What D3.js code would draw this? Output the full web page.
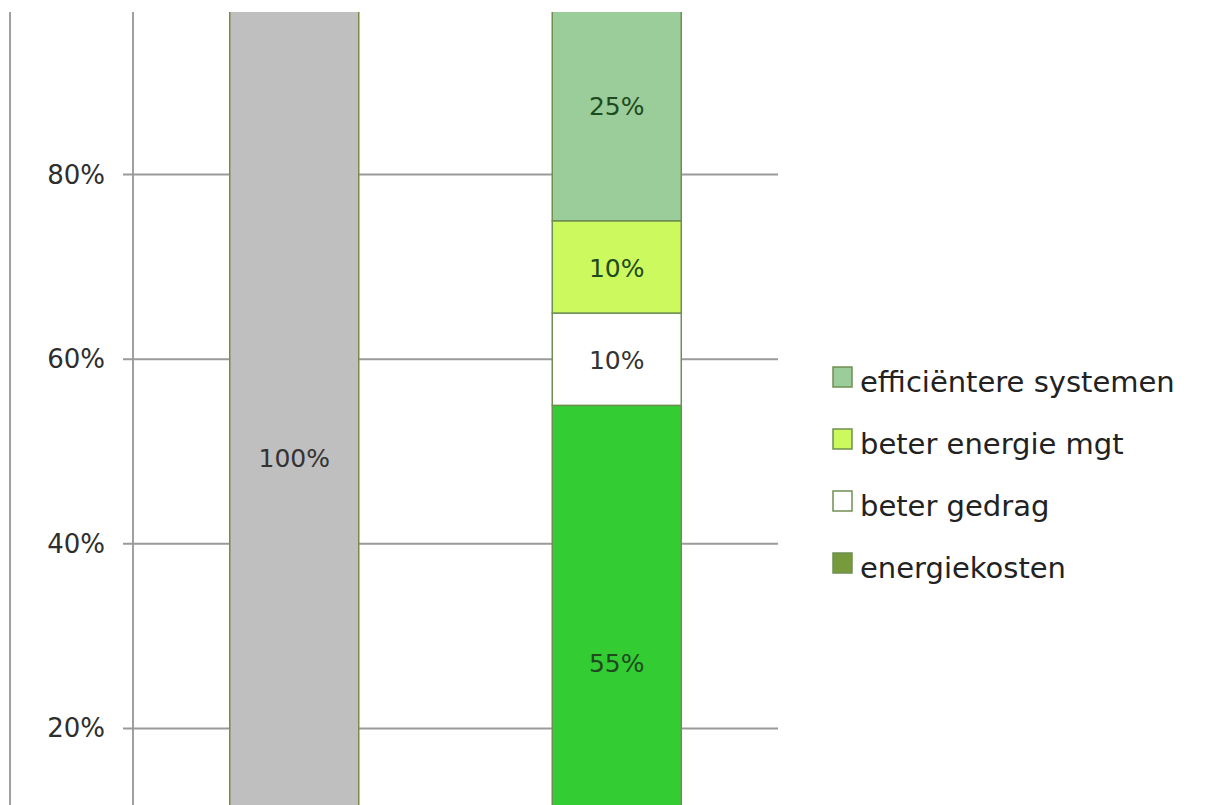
<!DOCTYPE html>
<html><head><meta charset="utf-8">
<script src="https://cdn.jsdelivr.net/npm/d3@7"></script>
<style>body{margin:0;background:#fff}svg{display:block}</style>
</head><body>
<svg id="c" width="1211" height="805"></svg>
<script>
const categories = ["huidig", "besparing"];
const seriesKeys = ["totaal", "energiekosten", "beter gedrag", "beter energie mgt", "efficiëntere systemen"];
const totaal = [100, 0];
const energiekosten = [0, 55];
const beterGedrag = [0, 10];
const beterEnergieMgt = [0, 10];
const efficientereSystemen = [0, 25];
const yTicks = [20, 40, 60, 80];
const legendKeys = ["efficiëntere systemen", "beter energie mgt", "beter gedrag", "energiekosten"];
const colors = {"totaal":"#bfbfbf","energiekosten":"#33cc33","beter gedrag":"#ffffff","beter energie mgt":"#ccfa5e","efficiëntere systemen":"#9acd99"};
const legendColors = {"efficiëntere systemen":"#9acd99","beter energie mgt":"#ccfa5e","beter gedrag":"#ffffff","energiekosten":"#779a3c"};
const labelColors = {"totaal":"#333","energiekosten":"#1f4a1f","beter gedrag":"#333","beter energie mgt":"#1f4a1f","efficiëntere systemen":"#1f4a1f"};

const rows = categories.map((c,i)=>({cat:c,"totaal":totaal[i],"energiekosten":energiekosten[i],"beter gedrag":beterGedrag[i],"beter energie mgt":beterEnergieMgt[i],"efficiëntere systemen":efficientereSystemen[i]}));

const FONT = "DejaVu Sans, Verdana, sans-serif";
const svg = d3.select("#c");
const x = d3.scaleBand().domain(categories).range([133, 778]).paddingInner(0.6).paddingOuter(0.3);
const y = d3.scaleLinear().domain([0, 100]).range([913, -10]);

svg.append("clipPath").attr("id","clip").append("rect").attr("x",0).attr("y",12).attr("width",1211).attr("height",805);
const g = svg.append("g").attr("clip-path","url(#clip)");

[10, 133].forEach(v=>g.append("line").attr("x1",v).attr("x2",v).attr("y1",0).attr("y2",805).attr("stroke","#a0a0a0").attr("stroke-width",2));

g.append("g").selectAll("line").data(yTicks).join("line")
  .attr("x1",123).attr("x2",778).attr("y1",d=>y(d)).attr("y2",d=>y(d))
  .attr("stroke","#9a9a9a").attr("stroke-width",2);

const fmt = d=>d+"%";
svg.append("g").selectAll("text").data(yTicks).join("text")
  .attr("x",105).attr("y",d=>y(d)+9)
  .attr("text-anchor","end")
  .attr("font-family",FONT).attr("font-size",26).attr("fill","#2e2e2e")
  .text(fmt);

const stack = d3.stack().keys(seriesKeys)(rows);
stack.forEach(layer=>{
  const key = layer.key;
  layer.forEach(d=>{
    const v = d[1]-d[0];
    if(v<=0) return;
    g.append("rect").attr("x",x(d.data.cat)).attr("width",x.bandwidth())
      .attr("y",y(d[1])).attr("height",y(d[0])-y(d[1]))
      .attr("fill",colors[key]).attr("stroke", key==="totaal"?"#7d8a45":"#6f8f52").attr("stroke-width",1.5);
    g.append("text").attr("x",x(d.data.cat)+x.bandwidth()/2)
      .attr("y",y((d[0]+d[1])/2)+(key==="energiekosten"?13:(key==="totaal"?15:10)))
      .attr("text-anchor","middle")
      .attr("font-family",FONT).attr("font-size",25).attr("fill",labelColors[key])
      .text(fmt(v));
  });
});

const lg = svg.append("g");
legendKeys.forEach((k,i)=>{
  const base = 392 + i*62;
  lg.append("rect").attr("x",833).attr("y",base-25).attr("width",19).attr("height",20)
    .attr("fill",legendColors[k]).attr("stroke","#6f8f52").attr("stroke-width",1.5);
  lg.append("text").attr("x",860).attr("y",base)
    .attr("font-family",FONT).attr("font-size",29).attr("fill","#222")
    .text(k);
});
</script>
</body></html>
